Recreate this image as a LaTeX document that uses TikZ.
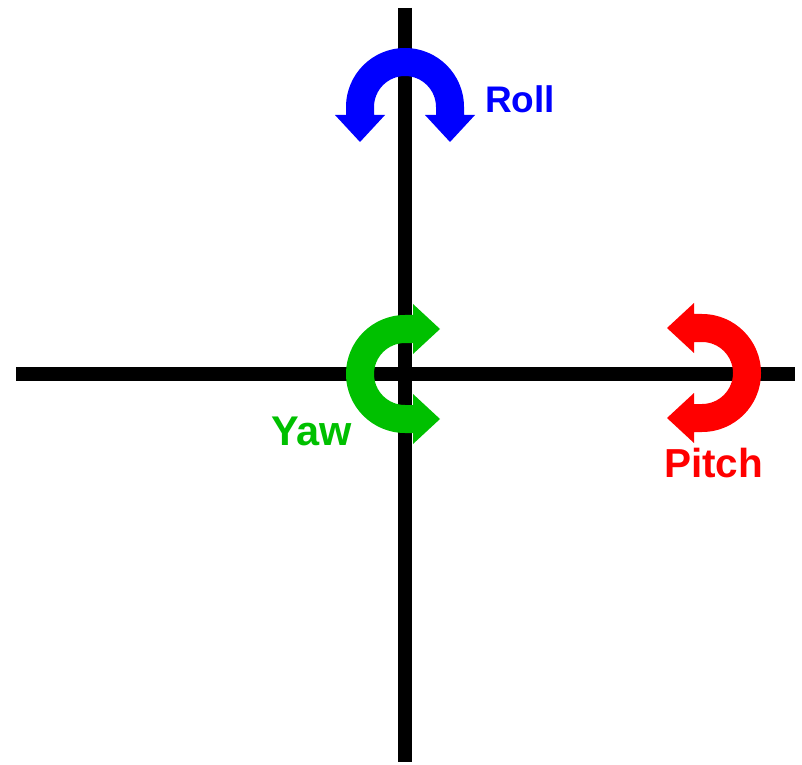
\documentclass[tikz,border=0pt]{standalone}
\usepackage{fontspec}
\setmainfont{Liberation Sans}
\definecolor{rollblue}{RGB}{0,0,255}
\definecolor{yawgreen}{RGB}{0,192,0}
\definecolor{pitchred}{RGB}{255,0,0}
\tikzset{
  axis/.style={line width=14pt, black},
  lbl/.style={inner sep=0pt, anchor=base west, font=\bfseries},
  uarrow/.pic={
    \fill[pic actions] (59,-8) -- (59,0) arc[start angle=0,end angle=180,radius=59]
      -- (-59,-8) -- (-70,-8) -- (-45,-35) -- (-20,-8) -- (-31,-8) -- (-31,0)
      arc[start angle=180,end angle=0,radius=31]
      -- (31,-8) -- (20,-8) -- (45,-35) -- (70,-8) -- cycle;
  }
}
\begin{document}
\begin{tikzpicture}[x=1pt,y=1pt]
  \fill[white] (0,0) rectangle (802,764);
  \useasboundingbox (0,0) rectangle (802,764);
  \coordinate (vtop) at (405,756);
  \coordinate (vbot) at (405,2);
  \coordinate (hleft) at (16,390);
  \coordinate (hright) at (795,390);
  \draw[axis] (vtop) -- (vbot);
  \draw[axis] (hleft) -- (hright);
  \pic[fill=rollblue] (roll) at (405,657) {uarrow};
  \pic[fill=pitchred, rotate=-90] (pitch) at (702,391) {uarrow};
  \pic[fill=yawgreen, rotate=90] (yaw) at (405,390) {uarrow};
  \node[lbl, text=rollblue, font=\bfseries\fontsize{37}{37}\selectfont] (rolltxt) at (485,651) {Roll};
  \node[lbl, text=pitchred, font=\bfseries\fontsize{40.5}{40}\selectfont] (pitchtxt) at (664,287) {Pitch};
  \node[lbl, text=yawgreen, font=\bfseries\fontsize{41.5}{40}\selectfont] (yawtxt) at (271,319) {Yaw};
\end{tikzpicture}
\end{document}
